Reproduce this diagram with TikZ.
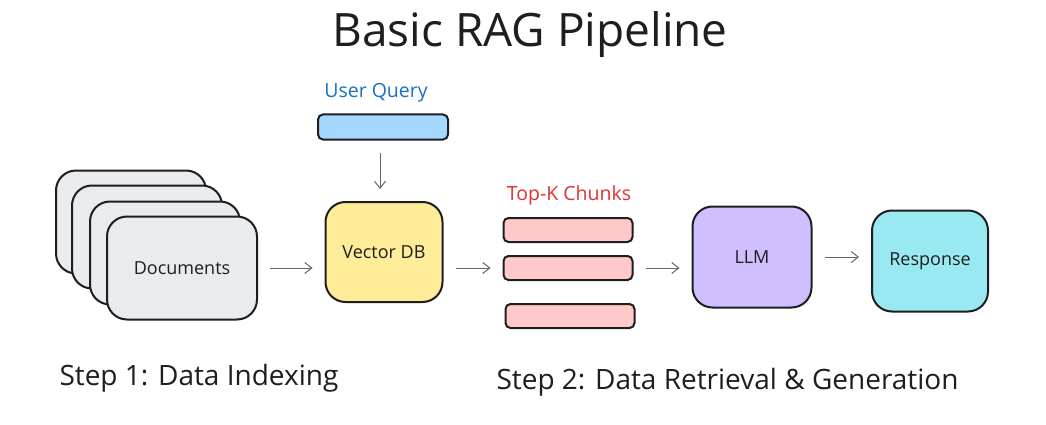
\documentclass[tikz,border=0pt]{standalone}
\usepackage{fontspec}
\setmainfont{Open Sans}
\usepackage{xcolor}
\usetikzlibrary{arrows.meta,positioning,calc}

\definecolor{docgray}{HTML}{E9ECEF}
\definecolor{dbyellow}{HTML}{FFEC99}
\definecolor{queryblue}{HTML}{A5D8FF}
\definecolor{chunkred}{HTML}{FFC9C9}
\definecolor{llmviolet}{HTML}{D0BFFF}
\definecolor{respcyan}{HTML}{99E9F2}
\definecolor{inkblue}{HTML}{1971C2}
\definecolor{inkred}{HTML}{E03131}
\definecolor{ink}{HTML}{1E1E1E}

\begin{document}
\begin{tikzpicture}[
  x=1pt, y=-1pt,
  card/.style={draw=ink, line width=2pt, rounded corners=20pt, minimum width=116pt, minimum height=101pt, font=\fontsize{18}{20}\selectfont, text=ink, align=center},
  bar/.style={draw=ink, line width=2pt, rounded corners=5pt, minimum width=129pt, minimum height=24pt},
  edge/.style={-{Straight Barb[length=7pt,width=11pt]}, line width=1pt, gray!80!black, shorten <=12pt, shorten >=12pt},
  tag/.style={font=\fontsize{19.5}{22}\selectfont},
  steptext/.style={font=\fontsize{28}{32}\selectfont, text=ink, anchor=west},
]
\fill[white] (0,0) rectangle (1046,425);

% Title
\node[font=\fontsize{46}{52}\selectfont, text=ink] (title) at (530,35) {Basic RAG Pipeline};

% Documents stack
\node[card, fill=docgray, minimum width=150pt, minimum height=103pt] (d1) at (131,222) {};
\node[card, fill=docgray, minimum width=150pt, minimum height=103pt] (d2) at (147,237) {};
\node[card, fill=docgray, minimum width=150pt, minimum height=103pt] (d3) at (165,253) {};
\node[card, fill=docgray, minimum width=150pt, minimum height=103pt] (docs) at (182,268) {Documents};

% Query and vector store
\node[tag, text=inkblue] (qlabel) at (376,93) {User Query};
\node[bar, fill=queryblue, minimum width=130pt, minimum height=25pt] (query) at (383,127) {};
\node[card, fill=dbyellow, minimum width=117pt, minimum height=100pt] (vdb) at (384,252) {Vector DB};

% Retrieved chunks
\node[tag, text=inkred] (klabel) at (569,195) {Top-K Chunks};
\node[bar, fill=chunkred] (c1) at (568,230) {};
\node[bar, fill=chunkred] (c2) at (568,268) {};
\node[bar, fill=chunkred] (c3) at (570,316) {};

% Generation
\node[card, fill=llmviolet, minimum width=119pt] (llm) at (752,257) {LLM};
\node[card, fill=respcyan] (resp) at (930,261) {Response};

% Connectors
\draw[edge] (query.south -| 380,0) -- (vdb.north -| 380,0);
\draw[edge] (docs.east) -- (docs.east -| vdb.west);
\draw[edge] (c2.west -| vdb.east) -- (c2.west);
\draw[edge] (c2.east) -- (c2.east -| llm.west);
\draw[edge] (llm.east) -- (llm.east -| resp.west);

% Step labels
\node[steptext] (step1) at (56,378) {Step 1: Data Indexing};
\node[steptext] (step2) at (493,382) {Step 2: Data Retrieval \& Generation};

\end{tikzpicture}
\end{document}
